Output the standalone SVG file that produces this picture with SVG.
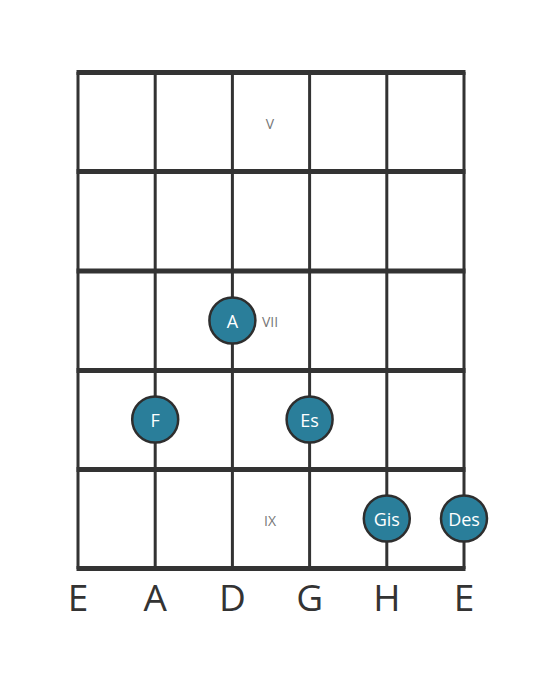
<svg xmlns="http://www.w3.org/2000/svg" width="559" height="682" viewBox="0 0 559 682">
<style>
.fret{stroke:#333;stroke-width:5;stroke-linecap:butt}
.str{stroke:#333;stroke-width:3}
.note circle{fill:#2a7e9a;stroke:#2e2e2e;stroke-width:2.5}
.note text{fill:#fff;font-family:"Open Sans","Noto Sans",sans-serif;font-size:18px;text-anchor:middle;dominant-baseline:central}
.pos{fill:#777;font-family:"Open Sans","Noto Sans",sans-serif;font-size:14px;text-anchor:middle;dominant-baseline:central}
.sname{fill:#333;font-family:"Open Sans","Noto Sans",sans-serif;font-size:37px;text-anchor:middle}
</style>
<rect width="559" height="682" fill="#fff"/>
<g id="connectors">
<line class="str" x1="78" y1="72" x2="78" y2="569"/>
<line class="str" x1="155.2" y1="72" x2="155.2" y2="569"/>
<line class="str" x1="232.4" y1="72" x2="232.4" y2="569"/>
<line class="str" x1="309.6" y1="72" x2="309.6" y2="569"/>
<line class="str" x1="386.8" y1="72" x2="386.8" y2="569"/>
<line class="str" x1="464" y1="72" x2="464" y2="569"/>
<line class="fret" x1="76.5" y1="72.5" x2="465.5" y2="72.5"/>
<line class="fret" x1="76.5" y1="171.5" x2="465.5" y2="171.5"/>
<line class="fret" x1="76.5" y1="271" x2="465.5" y2="271"/>
<line class="fret" x1="76.5" y1="370.5" x2="465.5" y2="370.5"/>
<line class="fret" x1="76.5" y1="469.5" x2="465.5" y2="469.5"/>
<line class="fret" x1="76.5" y1="568.5" x2="465.5" y2="568.5"/>
</g>
<g id="labels">
<text class="pos" x="270" y="123">V</text>
<text class="pos" x="270" y="321">VII</text>
<text class="pos" x="270" y="520">IX</text>
</g>
<g id="note-A" class="note"><circle cx="232.4" cy="320.5" r="23"/><text x="232.4" y="320.5">A</text></g>
<g id="note-F" class="note"><circle cx="155.2" cy="419.5" r="23"/><text x="155.2" y="419.5">F</text></g>
<g id="note-Es" class="note"><circle cx="309.6" cy="419.5" r="23"/><text x="309.6" y="419.5">Es</text></g>
<g id="note-Gis" class="note"><circle cx="386.8" cy="518.5" r="23"/><text x="386.8" y="518.5">Gis</text></g>
<g id="note-Des" class="note"><circle cx="464" cy="518.5" r="23"/><text x="464" y="518.5">Des</text></g>
<g id="strings">
<text class="sname" x="78" y="611">E</text>
<text class="sname" x="155.2" y="611">A</text>
<text class="sname" x="232.4" y="611">D</text>
<text class="sname" x="309.6" y="611">G</text>
<text class="sname" x="386.8" y="611">H</text>
<text class="sname" x="464" y="611">E</text>
</g>
</svg>
